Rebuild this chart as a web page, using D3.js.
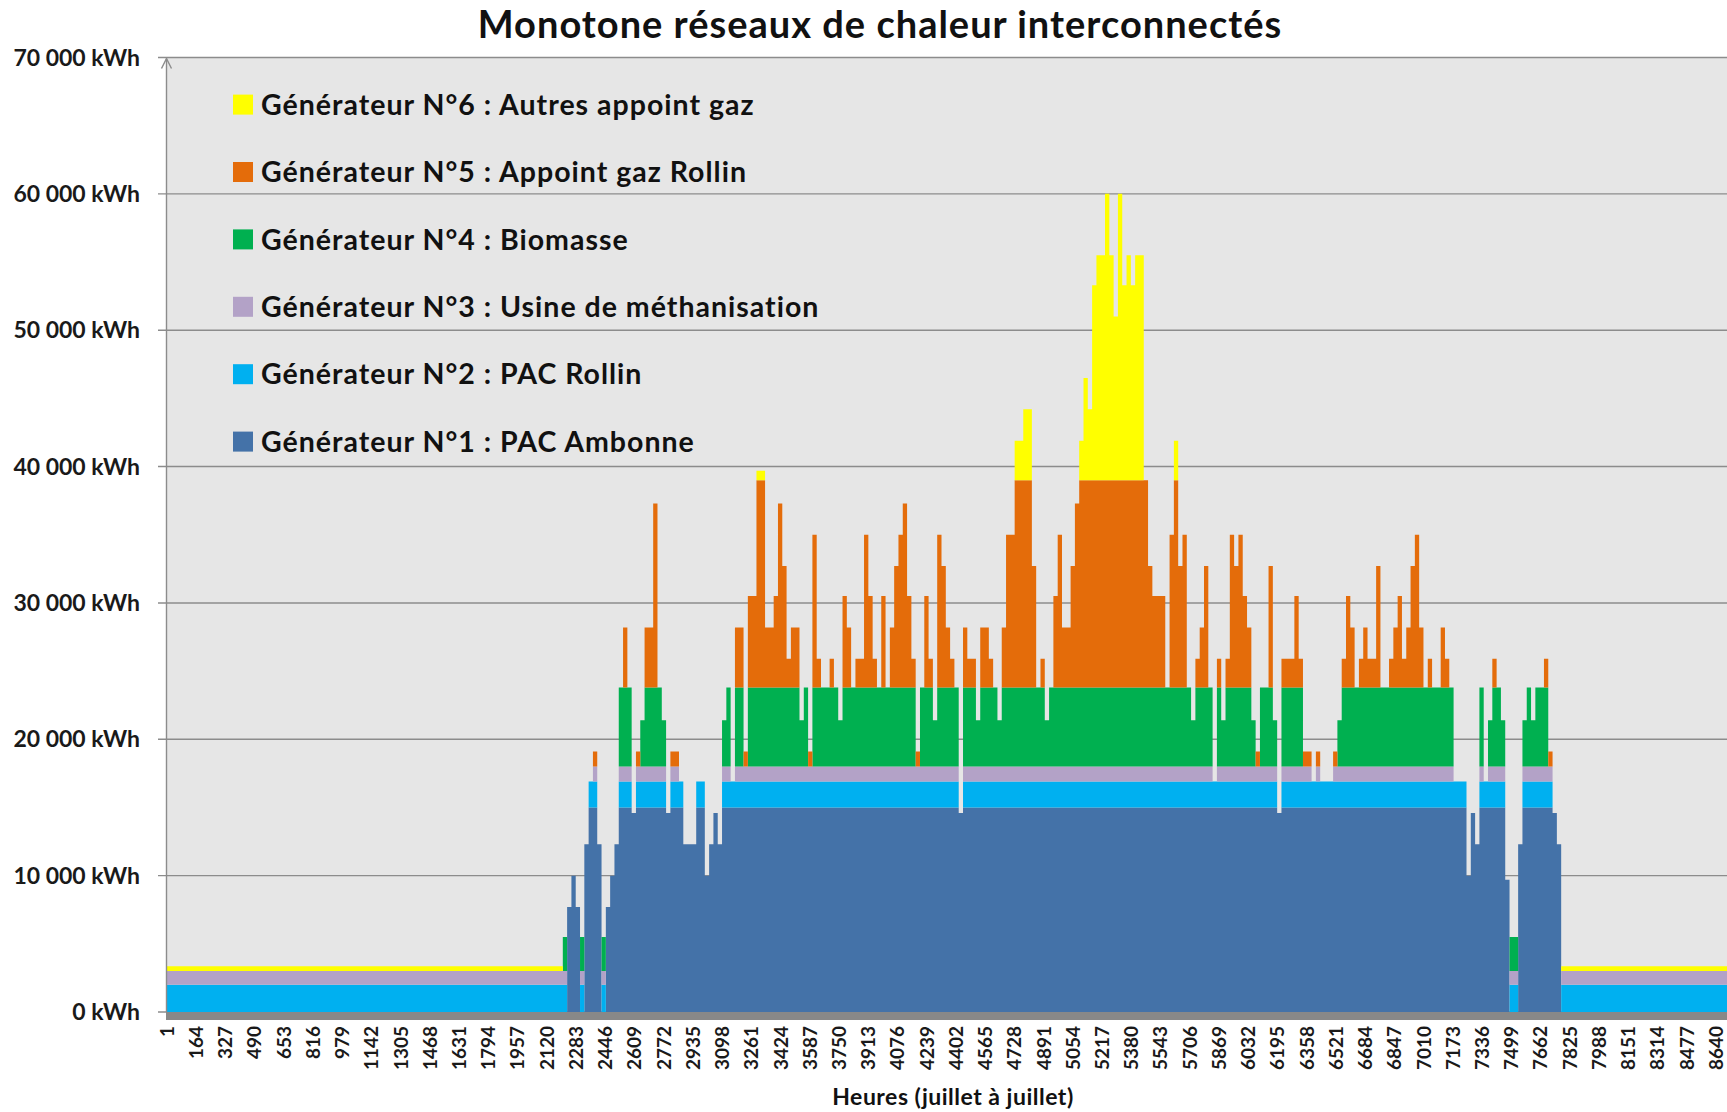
<!DOCTYPE html>
<html><head><meta charset="utf-8">
<script src="https://cdn.jsdelivr.net/npm/d3@7"></script>
<style>
body{margin:0;background:#fff}
svg{display:block}
text{font-family:Lato,"Open Sans",sans-serif}
</style>
</head><body>
<svg id="chart" width="1727" height="1112"></svg>
<script>
const chartTitle = "Monotone réseaux de chaleur interconnectés";
const xAxisTitle = "Heures (juillet à juillet)";
const seriesKeys = ["ambonne","rollin","methan","biomasse","gazRollin","autres"];
const seriesLabels = ["Générateur N°1 : PAC Ambonne","Générateur N°2 : PAC Rollin","Générateur N°3 : Usine de méthanisation","Générateur N°4 : Biomasse","Générateur N°5 : Appoint gaz Rollin","Générateur N°6 : Autres appoint gaz"];
const seriesColors = ["#4472a8","#00b0f0","#b3a2c7","#00b050","#e46c0a","#ffff00"];
const xTickLabels = [1,164,327,490,653,816,979,1142,1305,1468,1631,1794,1957,2120,2283,2446,2609,2772,2935,3098,3261,3424,3587,3750,3913,4076,4239,4402,4565,4728,4891,5054,5217,5380,5543,5706,5869,6032,6195,6358,6521,6684,6847,7010,7173,7336,7499,7662,7825,7988,8151,8314,8477,8640];
const yTickValues = [0,10000,20000,30000,40000,50000,60000,70000];
const endHour = 8760;

// start hour of each constant block
const hourStart = [
1,2209,2233,2257,2281,2305,2329,2353,2377,2401,
2425,2449,2473,2497,2521,2545,2569,2593,2617,2641,
2665,2713,2737,2761,2785,2809,2857,2881,2953,3001,
3025,3049,3073,3097,3121,3145,3169,3217,3241,3289,
3337,3385,3409,3433,3457,3481,3529,3553,3577,3601,
3625,3649,3697,3721,3745,3769,3793,3817,3841,3889,
3913,3937,3961,3985,4009,4033,4057,4081,4105,4129,
4153,4177,4201,4225,4249,4273,4297,4321,4345,4369,
4393,4417,4441,4465,4513,4537,4585,4609,4633,4657,
4681,4729,4777,4825,4849,4873,4897,4921,4945,4969,
4993,5041,5065,5089,5113,5137,5161,5185,5233,5257,
5281,5305,5329,5353,5377,5401,5449,5473,5497,5569,
5593,5617,5641,5665,5689,5713,5737,5761,5785,5809,
5833,5857,5881,5905,5929,5953,5977,6001,6025,6049,
6073,6097,6145,6169,6193,6217,6289,6313,6337,6385,
6409,6433,6505,6529,6553,6577,6601,6625,6649,6673,
6697,6745,6769,6817,6841,6865,6889,6913,6937,6961,
6985,7009,7033,7057,7105,7129,7153,7177,7249,7273,
7297,7321,7345,7369,7393,7417,7441,7465,7489,7537,
7561,7585,7609,7633,7681,7705,7729,7753,7777];

const pacAmbonne = [
0,0,7700,10000,7700,0,12300,15000,15000,12300,
0,7700,10000,12300,15000,15000,15000,14600,15000,15000,
15000,15000,15000,15000,14600,15000,15000,12300,15000,10000,
12300,14600,12300,15000,15000,15000,15000,15000,15000,15000,
15000,15000,15000,15000,15000,15000,15000,15000,15000,15000,
15000,15000,15000,15000,15000,15000,15000,15000,15000,15000,
15000,15000,15000,15000,15000,15000,15000,15000,15000,15000,
15000,15000,15000,15000,15000,15000,15000,15000,15000,15000,
15000,14600,15000,15000,15000,15000,15000,15000,15000,15000,
15000,15000,15000,15000,15000,15000,15000,15000,15000,15000,
15000,15000,15000,15000,15000,15000,15000,15000,15000,15000,
15000,15000,15000,15000,15000,15000,15000,15000,15000,15000,
15000,15000,15000,15000,15000,15000,15000,15000,15000,15000,
15000,15000,15000,15000,15000,15000,15000,15000,15000,15000,
15000,15000,15000,15000,14600,15000,15000,15000,15000,15000,
15000,15000,15000,15000,15000,15000,15000,15000,15000,15000,
15000,15000,15000,15000,15000,15000,15000,15000,15000,15000,
15000,15000,15000,15000,15000,15000,15000,15000,10000,14600,
12300,15000,15000,15000,15000,15000,15000,9700,0,12300,
15000,15000,15000,15000,15000,15000,14600,12300,0];

const pacRollin = [
2000,2000,0,0,0,2000,0,1900,1900,0,
2000,0,0,0,1900,1900,1900,0,1900,1900,
1900,1900,1900,1900,0,1900,1900,0,1900,0,
0,0,0,1900,1900,1900,1900,1900,1900,1900,
1900,1900,1900,1900,1900,1900,1900,1900,1900,1900,
1900,1900,1900,1900,1900,1900,1900,1900,1900,1900,
1900,1900,1900,1900,1900,1900,1900,1900,1900,1900,
1900,1900,1900,1900,1900,1900,1900,1900,1900,1900,
1900,0,1900,1900,1900,1900,1900,1900,1900,1900,
1900,1900,1900,1900,1900,1900,1900,1900,1900,1900,
1900,1900,1900,1900,1900,1900,1900,1900,1900,1900,
1900,1900,1900,1900,1900,1900,1900,1900,1900,1900,
1900,1900,1900,1900,1900,1900,1900,1900,1900,1900,
1900,1900,1900,1900,1900,1900,1900,1900,1900,1900,
1900,1900,1900,1900,0,1900,1900,1900,1900,1900,
1900,1900,1900,1900,1900,1900,1900,1900,1900,1900,
1900,1900,1900,1900,1900,1900,1900,1900,1900,1900,
1900,1900,1900,1900,1900,1900,1900,1900,0,0,
0,1900,1900,1900,1900,1900,1900,0,2000,0,
1900,1900,1900,1900,1900,1900,0,0,2000];

const methanisation = [
1000,1000,0,0,0,1000,0,0,1100,0,
1000,0,0,0,1100,1100,1100,0,1100,1100,
1100,1100,1100,1100,0,1100,0,0,0,0,
0,0,0,1100,1100,0,1100,1100,1100,1100,
1100,1100,1100,1100,1100,1100,1100,1100,1100,1100,
1100,1100,1100,1100,1100,1100,1100,1100,1100,1100,
1100,1100,1100,1100,1100,1100,1100,1100,1100,1100,
1100,1100,1100,1100,1100,1100,1100,1100,1100,1100,
1100,0,1100,1100,1100,1100,1100,1100,1100,1100,
1100,1100,1100,1100,1100,1100,1100,1100,1100,1100,
1100,1100,1100,1100,1100,1100,1100,1100,1100,1100,
1100,1100,1100,1100,1100,1100,1100,1100,1100,1100,
1100,1100,1100,1100,1100,1100,1100,1100,1100,1100,
0,1100,1100,1100,1100,1100,1100,1100,1100,1100,
1100,1100,1100,1100,0,1100,1100,1100,1100,0,
1100,0,1100,1100,1100,1100,1100,1100,1100,1100,
1100,1100,1100,1100,1100,1100,1100,1100,1100,1100,
1100,1100,1100,1100,1100,1100,1100,0,0,0,
0,1100,0,1100,1100,1100,1100,0,1000,0,
1100,1100,1100,1100,1100,1100,0,0,1000];

const biomasse = [
0,2500,0,0,0,2500,0,0,0,0,
2500,0,0,0,5800,5800,5800,0,0,3400,
5800,5800,5800,3400,0,0,0,0,0,0,
0,0,0,3400,5800,0,5800,0,5800,5800,
5800,5800,5800,5800,5800,5800,3400,5800,0,5800,
5800,5800,5800,5800,3400,5800,5800,5800,5800,5800,
5800,5800,5800,5800,5800,5800,5800,5800,5800,5800,
5800,0,5800,5800,5800,3400,5800,5800,5800,5800,
5800,0,5800,5800,3400,5800,5800,5800,3400,5800,
5800,5800,5800,5800,5800,5800,3400,5800,5800,5800,
5800,5800,5800,5800,5800,5800,5800,5800,5800,5800,
5800,5800,5800,5800,5800,5800,5800,5800,5800,5800,
5800,5800,5800,5800,5800,3400,5800,5800,5800,5800,
0,5800,3400,5800,5800,5800,5800,5800,5800,3400,
0,5800,5800,3400,0,5800,5800,5800,0,0,
0,0,0,3400,5800,5800,5800,5800,5800,5800,
5800,5800,5800,5800,5800,5800,5800,5800,5800,5800,
5800,5800,5800,5800,5800,5800,5800,0,0,0,
0,5800,0,3400,5800,5800,3400,0,2500,0,
3400,5800,3400,5800,5800,0,0,0,0];

const appointGazRollin = [
0,0,0,0,0,0,0,0,1100,0,
0,0,0,0,0,4400,0,0,1100,0,
4400,13500,0,0,0,1100,0,0,0,0,
0,0,0,0,0,0,4400,1100,6700,15200,
4400,6700,13500,8900,2100,4400,0,0,1100,11200,
2100,0,2100,0,0,6700,4400,0,2100,11200,
6700,2100,0,6700,0,4400,8900,11200,13500,6700,
2100,1100,0,6700,2100,0,11200,8900,4400,2100,
0,0,4400,2100,0,4400,2100,0,0,4400,
11200,15200,15200,8900,0,2100,0,0,6700,11200,
4400,8900,13500,15200,15200,15200,15200,15200,15200,15200,
15200,15200,15200,15200,15200,15200,15200,8900,6700,0,
11200,15200,8900,11200,0,0,2100,4400,8900,0,
0,2100,0,2100,11200,8900,11200,6700,4400,0,
1100,0,8900,0,0,2100,6700,2100,1100,0,
1100,0,1100,0,2100,6700,4400,0,2100,4400,
2100,8900,0,2100,4400,6700,2100,4400,8900,11200,
4400,0,2100,0,4400,2100,0,0,0,0,
0,0,0,0,2100,0,0,0,0,0,
0,0,0,0,2100,1100,0,0,0];

const autresAppoint = [
350,0,0,0,0,0,0,0,0,0,
0,0,0,0,0,0,0,0,0,0,
0,0,0,0,0,0,0,0,0,0,
0,0,0,0,0,0,0,0,0,700,
0,0,0,0,0,0,0,0,0,0,
0,0,0,0,0,0,0,0,0,0,
0,0,0,0,0,0,0,0,0,0,
0,0,0,0,0,0,0,0,0,0,
0,0,0,0,0,0,0,0,0,0,
0,2900,5200,0,0,0,0,0,0,0,
0,0,0,2900,7500,5200,14300,16500,21000,16500,
12000,21000,14300,16500,14300,16500,0,0,0,0,
0,2900,0,0,0,0,0,0,0,0,
0,0,0,0,0,0,0,0,0,0,
0,0,0,0,0,0,0,0,0,0,
0,0,0,0,0,0,0,0,0,0,
0,0,0,0,0,0,0,0,0,0,
0,0,0,0,0,0,0,0,0,0,
0,0,0,0,0,0,0,0,0,0,
0,0,0,0,0,0,0,0,350];

const seriesValues = [pacAmbonne, pacRollin, methanisation, biomasse, appointGazRollin, autresAppoint];

// ---- layout ----
const plotLeft = 166, plotRight = 1727, plotTop = 57.5, plotBottom = 1012;
const svg = d3.select("#chart");

const x = d3.scaleLinear().domain([1, 8640]).range([167, 1716]);
const y = d3.scaleLinear().domain([0, 70000]).range([plotBottom, plotTop]);

const rows = hourStart.map((h, i) => {
  const r = {h};
  seriesKeys.forEach((k, j) => r[k] = seriesValues[j][i]);
  return r;
});
rows.push(Object.assign({}, rows[rows.length - 1], {h: endHour}));

const stacked = d3.stack().keys(seriesKeys)(rows);

svg.append("defs").append("clipPath").attr("id", "clip")
  .append("rect").attr("x", plotLeft).attr("y", plotTop - 5)
  .attr("width", plotRight - plotLeft).attr("height", plotBottom - plotTop + 5);

// plot background
svg.append("rect").attr("x", plotLeft).attr("y", plotTop)
  .attr("width", plotRight - plotLeft).attr("height", plotBottom - plotTop)
  .attr("fill", "#e6e6e6");

// gridlines
const fmt = d3.formatLocale({decimal: ",", thousands: " ", grouping: [3], currency: ["", ""]}).format(",");
svg.append("g").selectAll("line").data(yTickValues).join("line")
  .attr("x1", 158).attr("x2", plotRight)
  .attr("y1", d => y(d)).attr("y2", d => y(d))
  .attr("stroke", "#8c8c8c").attr("stroke-width", 1.4);

// areas
const area = d3.area().curve(d3.curveStepAfter)
  .x(d => x(d.data.h - 0.5))
  .y0(d => y(d[0])).y1(d => y(d[1]));

svg.append("g").attr("clip-path", "url(#clip)")
  .selectAll("path").data(stacked).join("path")
  .attr("d", area)
  .attr("fill", (d, i) => seriesColors[i]);

// x base band
svg.append("rect").attr("x", plotLeft).attr("y", plotBottom)
  .attr("width", plotRight - plotLeft).attr("height", 8)
  .attr("fill", "#888888");

// y axis line with arrow
svg.append("line").attr("x1", 166.5).attr("x2", 166.5)
  .attr("y1", plotBottom).attr("y2", plotTop + 1)
  .attr("stroke", "#8c8c8c").attr("stroke-width", 1.4);
svg.append("path").attr("d", `M161.5,${plotTop + 11} L166.5,${plotTop + 1} L171.5,${plotTop + 11}`)
  .attr("fill", "none").attr("stroke", "#8c8c8c").attr("stroke-width", 1.4);

// y labels
svg.append("g").selectAll("text").data(yTickValues).join("text")
  .attr("x", 140).attr("y", d => y(d))
  .attr("dy", "0.35em").attr("text-anchor", "end")
  .attr("font-size", 23).attr("font-weight", 700).attr("fill", "#1a1a1a")
  .text(d => fmt(d) + " kWh");

// x axis labels
const xAxis = d3.axisBottom(x).tickValues(xTickLabels).tickSize(0).tickFormat(d => String(d));
const gx = svg.append("g").attr("transform", `translate(0,${plotBottom + 8})`).call(xAxis);
gx.select(".domain").remove();
gx.selectAll("text")
  .attr("transform", "rotate(-90)")
  .attr("x", -6).attr("y", 0).attr("dy", "0.33em")
  .attr("text-anchor", "end")
  .attr("font-family", "Lato, 'Open Sans', sans-serif")
  .attr("font-size", 19).attr("font-weight", 700).attr("fill", "#1a1a1a");

// title
svg.append("text").attr("x", 880).attr("y", 38).attr("text-anchor", "middle")
  .attr("font-size", 38).attr("font-weight", 700).attr("letter-spacing", 1).attr("fill", "#111")
  .text(chartTitle);

// x axis title
svg.append("text").attr("x", 953).attr("y", 1105).attr("text-anchor", "middle")
  .attr("font-size", 23).attr("font-weight", 700).attr("letter-spacing", 0.5).attr("fill", "#111")
  .text(xAxisTitle);

// legend (top = N°6)
const legendOrder = [5,4,3,2,1,0];
const lg = svg.append("g");
legendOrder.forEach((si, r) => {
  const cy = 104.6 + r * 67.4;
  lg.append("rect").attr("x", 233).attr("y", cy - 10).attr("width", 20).attr("height", 20)
    .attr("fill", seriesColors[si]);
  lg.append("text").attr("x", 261).attr("y", cy).attr("dy", "0.36em")
    .attr("font-size", 28.5).attr("font-weight", 700).attr("letter-spacing", 1).attr("fill", "#111")
    .text(seriesLabels[si]);
});
</script>
</body></html>
